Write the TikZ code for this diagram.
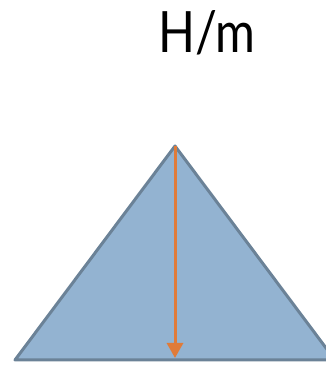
\documentclass[tikz,border=0pt]{standalone}
\usepackage{fontspec}
\setmainfont{Lato}
\usetikzlibrary{arrows.meta}
\definecolor{trifill}{HTML}{93B3D1}
\definecolor{tridraw}{HTML}{6B8297}
\definecolor{arroworange}{HTML}{E07B39}
\begin{document}
\begin{tikzpicture}[x=1pt,y=1pt,
  tri/.style={fill=trifill,draw=tridraw,line width=3pt,line join=round},
  arr/.style={draw=arroworange,line width=3pt,-{Triangle[length=15pt,width=16pt]}},
  title/.style={inner sep=0pt,xscale=0.85,font=\fontsize{57}{60}\selectfont}]
\useasboundingbox (0,0) rectangle (326,365);
\coordinate (apex) at (175,219);
\coordinate (bl) at (15,5);
\coordinate (br) at (335,5);
\coordinate (bot) at (175,7);
\filldraw[tri] (apex) -- (bl) -- (br) -- cycle;
\draw[arr] (apex) -- (bot);
\node[title] (t) at (207,332) {H/m};
\end{tikzpicture}
\end{document}
